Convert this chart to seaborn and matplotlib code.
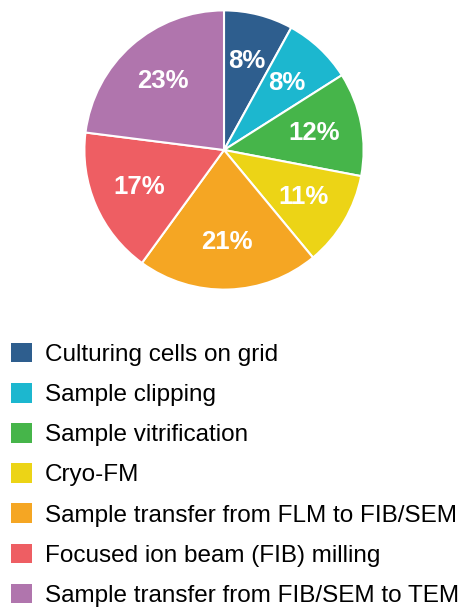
import matplotlib
matplotlib.use("Agg")
import matplotlib.pyplot as plt
from matplotlib.patches import Patch
import seaborn as sns

steps = ["Culturing cells on grid", "Sample clipping", "Sample vitrification", "Cryo-FM",
         "Sample transfer from FLM to FIB/SEM", "Focused ion beam (FIB) milling",
         "Sample transfer from FIB/SEM to TEM"]
shares = [8, 8, 12, 11, 21, 17, 23]
colors = ["#2E5E8E", "#1CB7CF", "#46B54A", "#ECD416", "#F5A623", "#EE5E63", "#B075AD"]

sns.set_theme(style="white")
plt.rcParams['font.family'] = ['Liberation Sans', 'DejaVu Sans']
plt.rcParams['text.color'] = 'black'

fig = plt.figure(figsize=(4.64, 6.11), dpi=100)
ax = fig.add_axes([(224 - 141) / 464, 1 - (150 + 141) / 611, 282 / 464, 282 / 611])

wedges, texts, autotexts = ax.pie(
    shares, colors=colors, startangle=90, counterclock=False,
    autopct='%.0f%%', pctdistance=0.66,
    wedgeprops=dict(edgecolor='white', linewidth=1.5),
    textprops=dict(color='white', fontsize=18.5, fontweight='bold'))
ax.set_xlim(-1.01, 1.01)
ax.set_ylim(-1.01, 1.01)
ax.set_aspect('equal')
ax.axis('off')

handles = [Patch(facecolor=c, edgecolor='none') for c in colors]
fig.legend(handles, steps, loc='upper left', bbox_to_anchor=(11 / 464, 1 - 343 / 611),
           frameon=False, fontsize=17.5, handlelength=0.85, handleheight=0.85,
           handletextpad=0.55, labelspacing=0.7, borderpad=0, borderaxespad=0)

fig.savefig("out.png", dpi=100)
